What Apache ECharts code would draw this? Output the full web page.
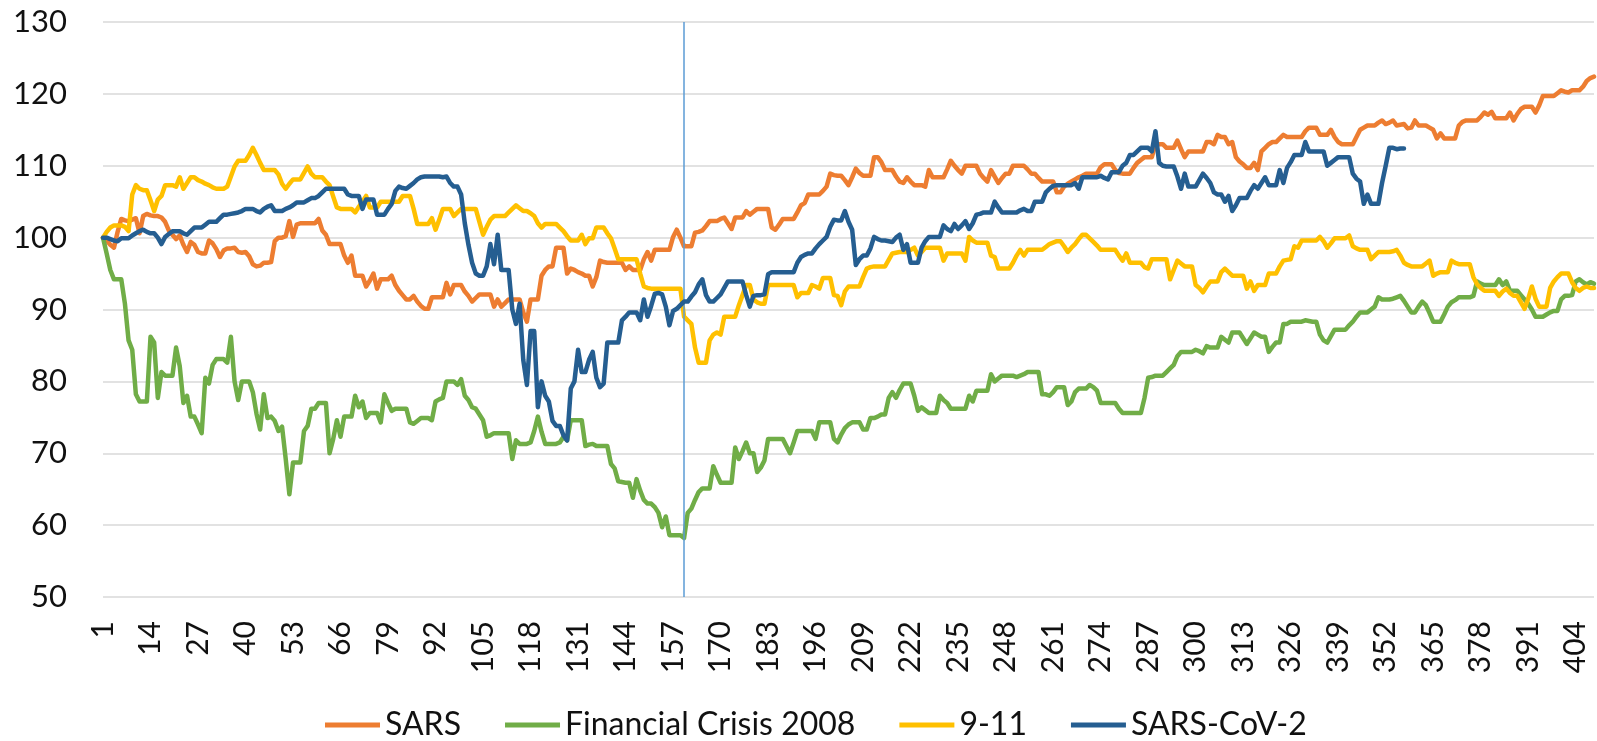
<!DOCTYPE html>
<html>
<head>
<meta charset="utf-8">
<script src="https://cdn.jsdelivr.net/npm/echarts@6/dist/echarts.min.js"></script>
<style>
  html, body { margin: 0; padding: 0; background: #fff; }
  #event-index-chart { width: 1597px; height: 741px; }
</style>
</head>
<body>
<div id="event-index-chart"></div>
<script>
// trading day index (1 = start of each event window)
const days = Array.from({length: 409}, (_, i) => String(i + 1));

const sars = [
  100, 99.6, 99.0, 98.6, 100.8, 102.6, 102.4, 102.3, 102.5, 102.7,
  100.6, 103.0, 103.3, 103.1, 103.0, 103.0, 102.8, 102.2, 101.0, 100.4,
  99.8, 100.3, 99.0, 98.0, 99.4, 99.0, 98.0, 97.8, 97.8, 99.6,
  99.2, 98.4, 97.3, 98.2, 98.5, 98.5, 98.6, 98.0, 97.9, 98.0,
  97.4, 96.3, 96.0, 96.1, 96.5, 96.5, 96.6, 99.5, 100.0, 100.0,
  100.2, 102.3, 100.1, 101.8, 102.0, 102.0, 102.0, 102.0, 102.0, 102.6,
  101.0, 100.4, 99.1, 99.1, 99.1, 99.1, 97.5, 96.5, 97.5, 94.7,
  94.7, 94.7, 93.2, 94.0, 95.0, 92.9, 94.2, 94.2, 94.2, 94.7,
  93.4, 92.6, 92.0, 91.4, 91.4, 91.9, 91.1, 90.5, 90.1, 90.1,
  91.7, 91.7, 91.7, 91.7, 93.7, 92.1, 93.4, 93.4, 93.4, 92.5,
  91.9, 91.1, 91.6, 92.1, 92.1, 92.1, 92.1, 90.4, 91.4, 90.4,
  90.9, 91.4, 91.4, 91.4, 91.4, 89.6, 88.3, 91.4, 91.4, 91.4,
  94.7, 95.5, 96.0, 96.0, 98.6, 98.6, 98.6, 95.0, 95.7, 95.5,
  95.2, 95.0, 94.7, 94.7, 93.2, 94.5, 96.8, 96.6, 96.5, 96.5,
  96.5, 96.5, 96.5, 95.5, 96.0, 95.5, 95.5, 95.5, 97.0, 98.0,
  96.8, 98.3, 98.3, 98.3, 98.3, 98.3, 100.1, 101.1, 100.0, 98.8,
  98.8, 98.8, 100.7, 100.8, 101.0, 101.6, 102.3, 102.3, 102.3, 102.6,
  102.8, 102.0, 101.2, 102.8, 102.8, 102.8, 103.7, 103.2, 103.6, 104.0,
  104.0, 104.0, 104.0, 101.4, 101.1, 101.8, 102.6, 102.6, 102.6, 102.6,
  103.5, 104.5, 104.8, 106.0, 106.0, 106.0, 106.0, 106.5, 107.1, 108.9,
  108.7, 108.6, 108.6, 108.0, 107.3, 108.4, 109.6, 109.0, 108.6, 108.6,
  108.6, 111.2, 111.2, 110.5, 109.4, 109.4, 109.4, 108.5, 107.8, 107.6,
  108.4, 107.8, 107.3, 107.3, 107.3, 107.1, 109.4, 108.4, 108.4, 108.4,
  108.4, 109.5, 110.7, 110.0, 109.4, 108.9, 110.0, 110.0, 110.0, 110.0,
  108.9, 108.3, 107.8, 109.4, 108.5, 107.6, 108.3, 108.9, 108.9, 110.0,
  110.0, 110.0, 110.0, 109.5, 108.9, 108.9, 108.3, 107.8, 107.8, 107.8,
  107.8, 106.3, 106.3, 107.1, 107.5, 107.8, 108.1, 108.4, 108.6, 108.9,
  108.9, 108.9, 108.9, 109.8, 110.2, 110.2, 110.2, 109.4, 109.0, 108.9,
  108.9, 108.9, 109.7, 110.4, 110.8, 111.2, 111.2, 111.2, 113.0, 113.0,
  113.0, 112.5, 112.5, 112.5, 113.5, 112.3, 111.2, 112.0, 112.0, 112.0,
  112.0, 112.0, 113.3, 113.3, 113.0, 114.3, 114.0, 114.0, 113.0, 113.3,
  111.2, 110.6, 110.2, 109.7, 109.7, 110.4, 109.4, 112.0, 112.5, 113.0,
  113.3, 113.3, 113.8, 114.3, 114.0, 114.0, 114.0, 114.0, 114.0, 114.8,
  115.3, 115.3, 115.3, 114.3, 114.3, 114.3, 115.0, 114.0, 113.3, 113.0,
  113.0, 113.0, 113.0, 114.0, 115.0, 115.3, 115.6, 115.6, 115.6, 116.0,
  116.3, 115.8, 116.0, 116.3, 115.6, 115.7, 115.8, 115.2, 115.3, 116.3,
  115.6, 115.6, 115.6, 115.3, 115.0, 113.8, 114.5, 113.8, 113.8, 113.8,
  113.8, 115.6, 116.1, 116.3, 116.3, 116.3, 116.3, 116.8, 117.4, 117.1,
  117.5, 116.6, 116.6, 116.6, 116.6, 117.4, 116.3, 117.2, 117.9, 118.2,
  118.2, 118.2, 117.4, 118.4, 119.7, 119.7, 119.7, 119.7, 120.1, 120.5,
  120.3, 120.2, 120.5, 120.5, 120.5, 121.0, 121.8, 122.2, 122.4
];

const crisis2008 = [
  100, 97.8, 95.5, 94.2, 94.2, 94.2, 90.8, 85.7, 84.4, 78.2,
  77.2, 77.2, 77.2, 86.2, 85.4, 77.7, 81.3, 80.8, 80.8, 80.8,
  84.7, 82.1, 77.0, 78.0, 75.1, 75.1, 74.0, 72.8, 80.5, 79.7,
  82.3, 83.1, 83.1, 83.1, 82.6, 86.2, 80.0, 77.4, 80.0, 80.0,
  80.0, 78.5, 75.5, 73.3, 78.2, 74.9, 75.1, 74.5, 73.1, 73.7,
  69.2, 64.3, 68.7, 68.7, 68.7, 73.1, 73.8, 76.2, 76.2, 77.0,
  77.0, 77.0, 70.0, 72.0, 74.6, 72.3, 75.1, 75.1, 75.1, 78.0,
  76.4, 77.2, 74.9, 75.6, 75.6, 75.6, 74.3, 78.2, 77.0, 75.9,
  76.2, 76.2, 76.2, 76.2, 74.3, 74.1, 74.5, 74.9, 74.9, 74.9,
  74.6, 77.2, 77.5, 77.7, 80.0, 80.0, 80.0, 79.5, 80.3, 78.0,
  77.4, 76.4, 76.2, 75.4, 74.6, 72.3, 72.5, 72.8, 72.8, 72.8,
  72.8, 72.8, 69.2, 71.8, 71.3, 71.3, 71.3, 71.5, 73.1, 75.1,
  73.0, 71.3, 71.3, 71.3, 71.3, 71.5, 72.3, 71.8, 74.6, 74.6,
  74.6, 74.6, 71.0, 71.2, 71.3, 71.0, 71.0, 71.0, 71.0, 68.5,
  67.9, 66.1, 66.0, 65.9, 65.9, 63.8, 66.4, 64.8, 63.5, 63.0,
  63.0, 62.5, 61.7, 59.7, 61.2, 58.6, 58.6, 58.6, 58.6, 58.2,
  61.7, 62.3, 63.5, 64.6, 65.1, 65.1, 65.1, 68.2, 67.0, 65.9,
  65.9, 65.9, 65.9, 70.8, 69.2, 70.3, 71.5, 70.0, 70.0, 67.4,
  68.0, 69.0, 72.0, 72.0, 72.0, 72.0, 72.0, 71.0, 70.0, 71.5,
  73.1, 73.1, 73.1, 73.1, 73.1, 72.0, 74.3, 74.3, 74.3, 74.3,
  72.0, 71.5, 72.6, 73.5, 74.0, 74.3, 74.3, 74.3, 73.3, 73.3,
  74.9, 74.9, 75.1, 75.4, 75.4, 77.7, 78.5, 77.7, 78.8, 79.7,
  79.7, 79.7, 78.0, 75.9, 76.4, 76.0, 75.6, 75.6, 75.6, 78.0,
  77.4, 77.0, 76.2, 76.2, 76.2, 76.2, 76.2, 78.0, 77.2, 78.7,
  78.7, 78.7, 78.7, 81.0, 80.0, 80.4, 80.8, 80.8, 80.8, 80.8,
  80.6, 80.8, 81.0, 81.3, 81.3, 81.3, 81.3, 78.2, 78.2, 78.0,
  78.5, 79.2, 79.2, 79.2, 76.7, 77.2, 78.5, 79.0, 79.0, 79.0,
  79.5, 79.2, 78.7, 77.0, 77.0, 77.0, 77.0, 77.0, 76.2, 75.6,
  75.6, 75.6, 75.6, 75.6, 75.6, 77.7, 80.5, 80.6, 80.8, 80.8,
  80.8, 81.3, 81.8, 82.3, 83.5, 84.1, 84.1, 84.1, 84.1, 84.4,
  84.2, 83.9, 84.9, 84.7, 84.7, 84.7, 86.2, 85.8, 85.4, 86.8,
  86.8, 86.8, 86.0, 85.2, 86.0, 86.8, 86.5, 86.2, 86.2, 84.1,
  84.8, 85.4, 85.4, 88.0, 88.0, 88.3, 88.3, 88.3, 88.3, 88.5,
  88.4, 88.3, 88.3, 86.5, 85.7, 85.4, 86.3, 87.2, 87.2, 87.2,
  87.2, 87.8, 88.3, 89.0, 89.6, 89.6, 89.6, 90.0, 90.4, 91.7,
  91.4, 91.4, 91.4, 91.5, 91.7, 91.9, 91.2, 90.4, 89.6, 89.6,
  90.4, 91.1, 90.6, 89.5, 88.3, 88.3, 88.3, 89.3, 90.4, 91.0,
  91.3, 91.7, 91.7, 91.7, 91.7, 91.9, 93.9, 93.6, 93.4, 93.4,
  93.4, 93.4, 94.2, 93.4, 93.9, 92.6, 92.6, 92.6, 92.0, 91.4,
  90.8, 90.0, 89.0, 89.0, 89.0, 89.3, 89.6, 89.8, 89.8, 91.4,
  91.9, 91.9, 92.0, 93.9, 94.2, 93.8, 93.5, 93.8, 93.6
];

const nineEleven = [
  100, 100.8, 101.4, 101.7, 101.7, 101.7, 101.5, 100.9, 106.0, 107.3,
  106.8, 106.6, 106.6, 105.2, 103.7, 105.3, 105.8, 107.3, 107.3, 107.3,
  107.1, 108.4, 106.8, 107.6, 108.4, 108.4, 108.0, 107.8, 107.5, 107.3,
  107.0, 106.8, 106.8, 106.8, 107.1, 108.5, 109.9, 110.7, 110.7, 110.7,
  111.5, 112.5, 111.5, 110.4, 109.4, 109.4, 109.4, 109.4, 108.8, 107.5,
  106.8, 107.5, 108.1, 108.1, 108.1, 109.0, 109.9, 108.9, 108.4, 108.4,
  108.4, 107.8, 107.3, 105.7, 104.2, 104.0, 104.0, 104.0, 104.0, 103.5,
  104.3, 105.0, 105.8, 104.2, 104.2, 104.2, 105.0, 105.0, 105.0, 105.0,
  105.0, 105.0, 105.8, 105.8, 105.8, 104.0, 101.9, 101.9, 101.9, 101.9,
  102.7, 101.1, 102.5, 104.0, 104.0, 104.0, 103.0, 103.5, 104.0, 104.0,
  104.0, 104.0, 104.0, 102.2, 100.4, 101.5, 102.5, 103.0, 103.0, 103.0,
  103.0, 103.5, 104.0, 104.5, 104.1, 103.7, 103.7, 103.4, 103.0, 102.0,
  101.4, 101.9, 101.9, 101.9, 101.9, 101.4, 100.9, 100.2, 99.6, 99.6,
  99.6, 100.4, 99.1, 99.9, 99.9, 101.4, 101.4, 101.4, 100.6, 99.9,
  98.5, 97.0, 97.0, 97.0, 97.0, 97.0, 97.0, 95.0, 93.2, 93.0,
  92.9, 92.9, 92.9, 92.9, 92.9, 92.9, 92.9, 92.9, 92.9, 89.0,
  88.5, 88.0, 84.7, 82.6, 82.6, 82.6, 85.7, 86.5, 86.8, 86.5,
  89.0, 89.0, 89.0, 89.0, 90.6, 92.0, 93.4, 93.4, 91.4, 91.0,
  90.8, 90.8, 93.4, 93.4, 93.4, 93.4, 93.4, 93.4, 93.4, 93.4,
  91.7, 92.3, 92.3, 92.3, 93.4, 93.2, 92.9, 94.4, 94.4, 94.4,
  92.0, 91.9, 90.6, 92.5, 93.2, 93.2, 93.2, 93.2, 94.5, 95.7,
  95.9, 96.0, 96.0, 96.0, 96.0, 96.9, 97.8, 97.9, 98.0, 98.0,
  98.0, 98.3, 98.6, 97.5, 98.0, 98.6, 98.6, 98.6, 98.6, 98.6,
  96.8, 97.8, 97.8, 97.8, 97.8, 97.8, 96.8, 100.1, 99.6, 99.3,
  99.3, 99.3, 99.3, 97.5, 97.3, 95.7, 95.7, 95.7, 95.7, 96.5,
  97.5, 98.3, 97.5, 98.3, 98.3, 98.3, 98.3, 98.3, 98.7, 99.1,
  99.3, 99.5, 99.5, 98.8, 98.0, 98.6, 99.1, 99.8, 100.4, 100.4,
  99.9, 99.4, 98.9, 98.3, 98.3, 98.3, 98.3, 98.3, 97.5, 96.8,
  97.8, 96.5, 96.5, 96.5, 96.5, 95.9, 95.7, 97.0, 97.0, 97.0,
  97.0, 97.0, 94.2, 95.5, 96.8, 96.4, 96.0, 96.0, 96.0, 93.4,
  93.0, 92.4, 93.2, 93.9, 93.9, 93.9, 95.2, 95.7, 95.2, 94.7,
  94.7, 94.7, 94.7, 92.9, 93.9, 92.6, 93.4, 93.4, 93.4, 95.0,
  95.0, 95.0, 96.0, 96.8, 96.9, 97.0, 98.8, 98.6, 99.6, 99.6,
  99.6, 99.6, 99.6, 100.1, 99.5, 98.6, 99.2, 99.9, 99.9, 99.9,
  99.9, 100.3, 98.8, 98.5, 98.3, 98.3, 98.3, 97.0, 97.5, 98.0,
  98.0, 98.0, 98.0, 98.1, 98.3, 97.5, 96.5, 96.2, 96.0, 96.0,
  96.0, 96.0, 96.4, 96.8, 94.7, 95.0, 95.2, 95.2, 95.2, 96.8,
  96.5, 96.3, 96.3, 96.3, 96.3, 94.5, 93.5, 93.0, 92.6, 92.6,
  92.6, 92.6, 91.9, 92.5, 92.9, 92.3, 91.9, 91.9, 91.0, 90.1,
  91.5, 93.2, 91.5, 90.4, 90.4, 90.4, 93.0, 93.9, 94.5, 95.0,
  95.0, 95.0, 93.8, 93.0, 92.6, 93.0, 93.2, 93.0, 93.0
];

const sarsCov2 = [
  100, 100, 99.8, 99.6, 99.5, 99.9, 99.9, 99.9, 100.3, 100.6,
  100.9, 101.1, 100.8, 100.6, 100.6, 100.0, 99.1, 100.1, 100.5, 100.9,
  100.9, 100.9, 100.6, 100.4, 100.9, 101.4, 101.4, 101.4, 101.8, 102.2,
  102.2, 102.2, 102.7, 103.2, 103.2, 103.3, 103.4, 103.5, 103.7, 104.0,
  104.0, 104.0, 103.7, 103.5, 104.0, 104.3, 104.5, 103.7, 103.7, 103.7,
  104.0, 104.2, 104.5, 104.9, 104.9, 104.9, 105.2, 105.5, 105.5, 105.8,
  106.3, 106.8, 106.8, 106.8, 106.8, 106.8, 106.8, 106.0, 105.8, 105.8,
  105.8, 104.0, 105.3, 105.3, 105.3, 103.2, 103.2, 103.2, 104.0, 104.7,
  106.5, 107.1, 106.9, 106.8, 107.2, 107.6, 108.1, 108.4, 108.5, 108.5,
  108.5, 108.5, 108.5, 108.4, 108.5, 107.6, 107.1, 107.1, 106.0, 102.0,
  99.0, 96.5, 95.0, 94.7, 94.7, 96.0, 99.1, 96.3, 100.4, 95.5,
  95.5, 95.5, 90.0, 88.0, 90.8, 83.0, 79.5, 87.0, 87.0, 76.4,
  80.0, 78.0, 77.2, 74.5, 73.8, 73.8, 72.5, 71.8, 79.0, 80.0,
  84.4, 81.3, 81.3, 83.0, 84.1, 80.5, 79.2, 79.7, 85.4, 85.4,
  85.4, 85.4, 88.5, 89.0, 89.6, 89.6, 89.6, 88.5, 91.4, 89.0,
  90.5, 92.2, 92.3, 92.1, 90.4, 87.8, 89.8, 90.1, 90.6, 91.1,
  91.1, 91.8, 92.4, 93.5, 94.2, 92.0, 91.1, 91.1, 91.6, 92.1,
  93.0, 93.9, 93.9, 93.9, 93.9, 93.9, 92.0, 90.4, 91.9, 92.0,
  92.0, 92.1, 94.9, 95.2, 95.2, 95.2, 95.2, 95.2, 95.2, 95.2,
  96.5, 97.3, 97.6, 97.8, 97.8, 98.5, 99.1, 99.6, 100.1, 101.5,
  102.5, 102.4, 102.4, 103.7, 102.2, 101.1, 96.2, 97.0, 97.5, 97.5,
  98.5, 100.1, 99.8, 99.6, 99.6, 99.5, 99.4, 100.0, 100.4, 98.3,
  99.1, 96.5, 96.5, 96.5, 98.6, 99.5, 100.1, 100.1, 100.1, 100.1,
  101.7, 101.2, 100.9, 101.9, 101.2, 101.7, 102.3, 101.2, 102.0, 103.2,
  103.3, 103.5, 103.5, 103.5, 105.0, 104.2, 103.5, 103.5, 103.5, 103.5,
  103.5, 103.8, 104.0, 103.7, 103.7, 105.0, 105.0, 105.0, 106.3, 106.8,
  107.2, 107.3, 107.3, 107.3, 107.3, 107.3, 107.6, 106.8, 108.4, 108.4,
  108.4, 108.4, 108.4, 108.6, 108.3, 108.1, 109.1, 109.1, 109.1, 110.0,
  110.4, 111.5, 111.5, 112.0, 112.5, 112.5, 112.5, 112.0, 114.8, 110.4,
  110.0, 109.9, 109.9, 109.9, 108.5, 106.8, 108.9, 107.1, 107.1, 107.1,
  108.0, 108.9, 108.3, 107.6, 106.3, 106.0, 106.0, 105.0, 105.8, 103.7,
  104.5, 105.5, 105.5, 105.5, 106.5, 107.3, 106.8, 107.6, 108.4, 107.3,
  107.3, 107.3, 109.4, 107.6, 109.7, 110.5, 111.5, 111.5, 111.5, 113.3,
  112.0, 112.0, 112.0, 112.0, 112.0, 110.0, 110.4, 110.8, 111.2, 111.2,
  111.2, 111.2, 108.9, 108.2, 107.8, 104.7, 106.0, 104.7, 104.7, 104.7,
  107.6, 110.0, 112.5, 112.5, 112.3, 112.4, 112.4
];

const seriesNames = ['SARS', 'Financial Crisis 2008', '9-11', 'SARS-CoV-2'];
const seriesColors = ['#ED7D31', '#70AD47', '#FFC000', '#255E91'];
const seriesData = [sars, crisis2008, nineEleven, sarsCov2];
const markDay = '160';

const font = 'Lato, "Noto Sans", sans-serif';

const chart = echarts.init(document.getElementById('event-index-chart'));

const series = seriesData.map((d, k) => ({
  name: seriesNames[k],
  type: 'line',
  data: d,
  showSymbol: false,
  color: seriesColors[k],
  lineStyle: { width: 4.5, join: 'round', cap: 'round' },
  z: 2 + k
}));

// the blue reference line at day 160
series[0].markLine = {
  silent: true,
  symbol: 'none',
  label: { show: false },
  lineStyle: { color: '#5B9BD5', width: 1.5, type: 'solid' },
  data: [{ xAxis: markDay }]
};

chart.setOption({
  animation: false,
  backgroundColor: '#fff',
  textStyle: { fontFamily: font },
  grid: { left: 103, right: 3, top: 22, bottom: 144 },
  legend: {
    data: seriesNames,
    left: 320,
    top: 704,
    icon: 'rect',
    itemWidth: 55,
    itemHeight: 5,
    itemGap: 44,
    textStyle: { fontSize: 32, color: '#111', fontFamily: font }
  },
  xAxis: {
    type: 'category',
    boundaryGap: false,
    data: days,
    axisLine: { show: false },
    axisTick: { show: false },
    axisLabel: {
      interval: 12,
      rotate: 90,
      margin: 24,
      fontSize: 30,
      color: '#111'
    }
  },
  yAxis: {
    type: 'value',
    min: 50,
    max: 130,
    interval: 10,
    axisLine: { show: false },
    axisTick: { show: false },
    axisLabel: { fontSize: 31, color: '#111', margin: 36 },
    splitLine: { lineStyle: { color: '#d9d9d9', width: 1.5 } }
  },
  series: series
});

window.addEventListener('resize', () => chart.resize());
</script>
</body>
</html>
